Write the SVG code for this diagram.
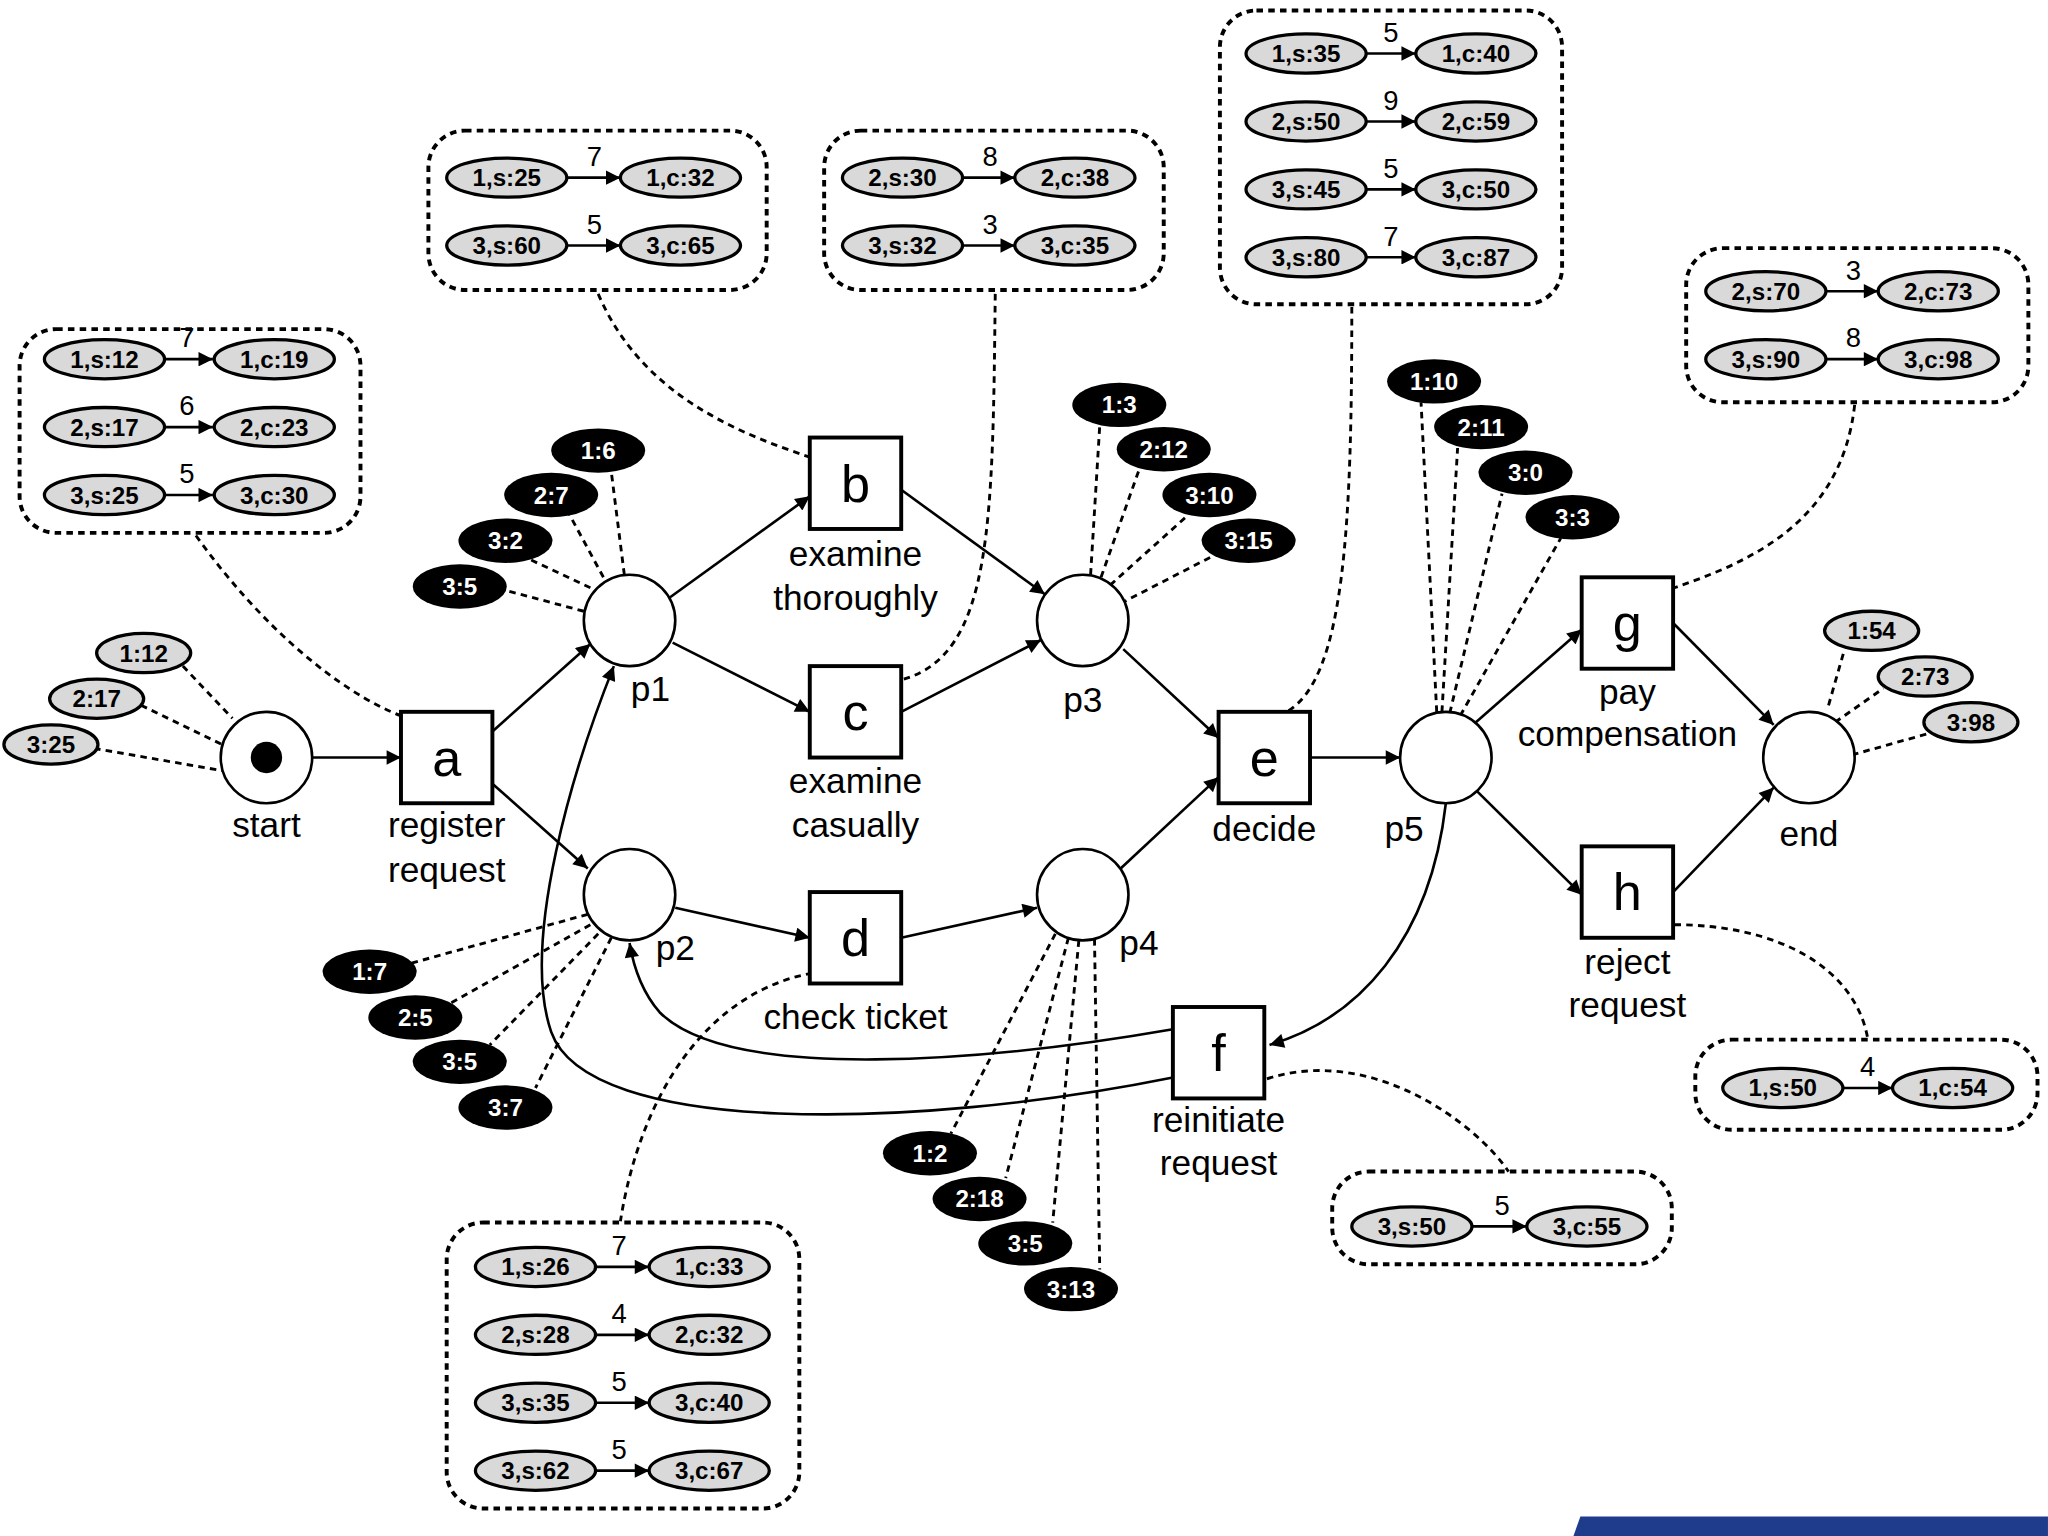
<svg xmlns="http://www.w3.org/2000/svg" width="2048" height="1536" viewBox="0 0 2048 1536">
<defs>
<style>
text{font-family:"Liberation Sans",Arial,sans-serif;text-anchor:middle}
.lbl{font-size:27px}
.big{font-size:40px}
.num{font-size:21px}
.et{font-size:18.5px;font-weight:bold;dominant-baseline:central}
.wt{fill:#fff}
.ge{fill:#d9d9d9;stroke:#000;stroke-width:2.5}
.be{fill:#000}
.pl{fill:#fff;stroke:#000;stroke-width:2}
.tr{fill:#fff;stroke:#000;stroke-width:3}
.arc{fill:none;stroke:#000;stroke-width:2;marker-end:url(#ah)}
.dl{fill:none;stroke:#000;stroke-width:2.2;stroke-dasharray:5,4}
.box{fill:none;stroke:#000;stroke-width:3;stroke-dasharray:5,4}
</style>
<marker id="ah" viewBox="0 0 10 10" refX="10" refY="5" markerWidth="12" markerHeight="11" orient="auto" markerUnits="userSpaceOnUse"><path d="M0,0 L10,5 L0,10 z"/></marker>
</defs>
<rect width="2048" height="1536" fill="#fff"/>
<g transform="scale(1.3061)">
<g id="connectors">
<path class="arc" d="M239,580 L307,580"/>
<path class="arc" d="M377,560 L452,493"/>
<path class="arc" d="M377,600 L450,665"/>
<path class="arc" d="M512,458 L620,380"/>
<path class="arc" d="M515,492 L620,545"/>
<path class="arc" d="M517,695 L620,718"/>
<path class="arc" d="M690,375 L800,455"/>
<path class="arc" d="M690,545 L797,490"/>
<path class="arc" d="M690,718 L794,695"/>
<path class="arc" d="M860,497 L933,565"/>
<path class="arc" d="M858,665 L933,595"/>
<path class="arc" d="M1003,580 L1072,580"/>
<path class="arc" d="M1130,553 L1211,482"/>
<path class="arc" d="M1130,605 L1211,685"/>
<path class="arc" d="M1281,477 L1358,555"/>
<path class="arc" d="M1281,683 L1358,603"/>
<path class="arc" d="M1107,615 C1095,720 1040,780 972,800"/>
<path class="arc" d="M898,788 C760,812 560,830 505,775 C492,760 485,740 482,722"/>
<path class="arc" d="M898,825 C700,865 450,870 422,790 C398,720 440,585 470,510"/>
<path class="dl" d="M150,410 C200,480 260,530 307,548"/>
<path class="dl" d="M458,225 C490,300 560,330 620,350"/>
<path class="dl" d="M762,225 C760,400 760,500 692,520"/>
<path class="dl" d="M1035,235 C1035,400 1030,520 985,545"/>
<path class="dl" d="M1420,310 C1410,400 1340,430 1282,450"/>
<path class="dl" d="M1282,708 C1360,708 1420,740 1430,795"/>
<path class="dl" d="M970,826 C1050,800 1130,860 1155,897"/>
<path class="dl" d="M622,745 C540,760 490,840 475,935"/>
<path class="dl" d="M140,510 L178,550 M108,540 L170,570 M72,573 L170,590"/>
<path class="dl" d="M1400,540 L1412,498 M1405,553 L1442,527 M1418,578 L1475,562"/>
<path class="dl" d="M478,440 L468,361 M462,442 L436,394 M452,450 L405,428 M447,468 L387,452"/>
<path class="dl" d="M835,440 L842,326 M843,442 L872,360 M850,448 L910,394 M858,462 L930,425"/>
<path class="dl" d="M1100,545 L1088,308 M1104,545 L1116,343 M1110,546 L1150,378 M1118,548 L1195,412"/>
<path class="dl" d="M450,700 L313,738 M452,708 L345,768 M458,715 L375,800 M468,718 L410,833"/>
<path class="dl" d="M808,715 L728,868 M818,718 L770,902 M826,720 L806,936 M838,719 L842,972"/>
</g>
<g id="start"><circle class="pl" cx="204" cy="580" r="35"/><circle cx="204" cy="580" r="12"/><text class="lbl" x="204" y="641">start</text></g>
<g id="a"><rect class="tr" x="307" y="545" width="70" height="70"/><text class="big" x="342" y="594">a</text><text class="lbl" x="342" y="641">register</text><text class="lbl" x="342" y="675">request</text></g>
<g id="p1"><circle class="pl" cx="482" cy="475" r="35"/><text class="lbl" x="498" y="537">p1</text></g>
<g id="p2"><circle class="pl" cx="482" cy="685" r="35"/><text class="lbl" x="517" y="735">p2</text></g>
<g id="b"><rect class="tr" x="620" y="335" width="70" height="70"/><text class="big" x="655" y="384">b</text><text class="lbl" x="655" y="433">examine</text><text class="lbl" x="655" y="467">thoroughly</text></g>
<g id="c"><rect class="tr" x="620" y="510" width="70" height="70"/><text class="big" x="655" y="559">c</text><text class="lbl" x="655" y="607">examine</text><text class="lbl" x="655" y="641">casually</text></g>
<g id="d"><rect class="tr" x="620" y="683" width="70" height="70"/><text class="big" x="655" y="732">d</text><text class="lbl" x="655" y="788">check ticket</text></g>
<g id="p3"><circle class="pl" cx="829" cy="475" r="35"/><text class="lbl" x="829" y="545">p3</text></g>
<g id="p4"><circle class="pl" cx="829" cy="685" r="35"/><text class="lbl" x="872" y="731">p4</text></g>
<g id="e"><rect class="tr" x="933" y="545" width="70" height="70"/><text class="big" x="968" y="594">e</text><text class="lbl" x="968" y="644">decide</text></g>
<g id="p5"><circle class="pl" cx="1107" cy="580" r="35"/><text class="lbl" x="1075" y="644">p5</text></g>
<g id="g"><rect class="tr" x="1211" y="442" width="70" height="70"/><text class="big" x="1246" y="491">g</text><text class="lbl" x="1246" y="539">pay</text><text class="lbl" x="1246" y="571">compensation</text></g>
<g id="h"><rect class="tr" x="1211" y="648" width="70" height="70"/><text class="big" x="1246" y="697">h</text><text class="lbl" x="1246" y="746">reject</text><text class="lbl" x="1246" y="779">request</text></g>
<g id="end"><circle class="pl" cx="1385" cy="580" r="35"/><text class="lbl" x="1385" y="648">end</text></g>
<g id="f"><rect class="tr" x="898" y="771" width="70" height="70"/><text class="big" x="933" y="820">f</text><text class="lbl" x="933" y="867">reinitiate</text><text class="lbl" x="933" y="900">request</text></g>
<g id="tokens">
<ellipse class="ge" cx="110" cy="500" rx="36" ry="15"/><text class="et" x="110" y="500">1:12</text>
<ellipse class="ge" cx="74" cy="535" rx="36" ry="15"/><text class="et" x="74" y="535">2:17</text>
<ellipse class="ge" cx="39" cy="570" rx="36" ry="15"/><text class="et" x="39" y="570">3:25</text>
<ellipse class="ge" cx="1433" cy="483" rx="36" ry="15"/><text class="et" x="1433" y="483">1:54</text>
<ellipse class="ge" cx="1474" cy="518" rx="36" ry="15"/><text class="et" x="1474" y="518">2:73</text>
<ellipse class="ge" cx="1509" cy="553" rx="36" ry="15"/><text class="et" x="1509" y="553">3:98</text>
<ellipse class="be" cx="458" cy="345" rx="36" ry="17"/><text class="et wt" x="458" y="345">1:6</text>
<ellipse class="be" cx="422" cy="379" rx="36" ry="17"/><text class="et wt" x="422" y="379">2:7</text>
<ellipse class="be" cx="387" cy="414" rx="36" ry="17"/><text class="et wt" x="387" y="414">3:2</text>
<ellipse class="be" cx="352" cy="449" rx="36" ry="17"/><text class="et wt" x="352" y="449">3:5</text>
<ellipse class="be" cx="857" cy="310" rx="36" ry="17"/><text class="et wt" x="857" y="310">1:3</text>
<ellipse class="be" cx="891" cy="344" rx="36" ry="17"/><text class="et wt" x="891" y="344">2:12</text>
<ellipse class="be" cx="926" cy="379" rx="36" ry="17"/><text class="et wt" x="926" y="379">3:10</text>
<ellipse class="be" cx="956" cy="414" rx="36" ry="17"/><text class="et wt" x="956" y="414">3:15</text>
<ellipse class="be" cx="1098" cy="292" rx="36" ry="17"/><text class="et wt" x="1098" y="292">1:10</text>
<ellipse class="be" cx="1134" cy="327" rx="36" ry="17"/><text class="et wt" x="1134" y="327">2:11</text>
<ellipse class="be" cx="1168" cy="362" rx="36" ry="17"/><text class="et wt" x="1168" y="362">3:0</text>
<ellipse class="be" cx="1204" cy="396" rx="36" ry="17"/><text class="et wt" x="1204" y="396">3:3</text>
<ellipse class="be" cx="283" cy="744" rx="36" ry="17"/><text class="et wt" x="283" y="744">1:7</text>
<ellipse class="be" cx="318" cy="779" rx="36" ry="17"/><text class="et wt" x="318" y="779">2:5</text>
<ellipse class="be" cx="352" cy="813" rx="36" ry="17"/><text class="et wt" x="352" y="813">3:5</text>
<ellipse class="be" cx="387" cy="848" rx="36" ry="17"/><text class="et wt" x="387" y="848">3:7</text>
<ellipse class="be" cx="712" cy="883" rx="36" ry="17"/><text class="et wt" x="712" y="883">1:2</text>
<ellipse class="be" cx="750" cy="918" rx="36" ry="17"/><text class="et wt" x="750" y="918">2:18</text>
<ellipse class="be" cx="785" cy="952" rx="36" ry="17"/><text class="et wt" x="785" y="952">3:5</text>
<ellipse class="be" cx="820" cy="987" rx="36" ry="17"/><text class="et wt" x="820" y="987">3:13</text>
</g>
<g id="boxA"><rect class="box" x="15" y="252" width="261" height="156" rx="28"/>
<ellipse class="ge" cx="80" cy="275" rx="46" ry="15"/><text class="et" x="80" y="275">1,s:12</text><path class="arc" d="M126,275 L163,275"/><text class="num" x="143" y="266">7</text><ellipse class="ge" cx="210" cy="275" rx="46" ry="15"/><text class="et" x="210" y="275">1,c:19</text>
<ellipse class="ge" cx="80" cy="327" rx="46" ry="15"/><text class="et" x="80" y="327">2,s:17</text><path class="arc" d="M126,327 L163,327"/><text class="num" x="143" y="318">6</text><ellipse class="ge" cx="210" cy="327" rx="46" ry="15"/><text class="et" x="210" y="327">2,c:23</text>
<ellipse class="ge" cx="80" cy="379" rx="46" ry="15"/><text class="et" x="80" y="379">3,s:25</text><path class="arc" d="M126,379 L163,379"/><text class="num" x="143" y="370">5</text><ellipse class="ge" cx="210" cy="379" rx="46" ry="15"/><text class="et" x="210" y="379">3,c:30</text></g>
<g id="boxB"><rect class="box" x="328" y="100" width="259" height="122" rx="28"/>
<ellipse class="ge" cx="388" cy="136" rx="46" ry="15"/><text class="et" x="388" y="136">1,s:25</text><path class="arc" d="M434,136 L475,136"/><text class="num" x="455" y="127">7</text><ellipse class="ge" cx="521" cy="136" rx="46" ry="15"/><text class="et" x="521" y="136">1,c:32</text>
<ellipse class="ge" cx="388" cy="188" rx="46" ry="15"/><text class="et" x="388" y="188">3,s:60</text><path class="arc" d="M434,188 L475,188"/><text class="num" x="455" y="179">5</text><ellipse class="ge" cx="521" cy="188" rx="46" ry="15"/><text class="et" x="521" y="188">3,c:65</text></g>
<g id="boxC"><rect class="box" x="631" y="100" width="260" height="122" rx="28"/>
<ellipse class="ge" cx="691" cy="136" rx="46" ry="15"/><text class="et" x="691" y="136">2,s:30</text><path class="arc" d="M737,136 L777,136"/><text class="num" x="758" y="127">8</text><ellipse class="ge" cx="823" cy="136" rx="46" ry="15"/><text class="et" x="823" y="136">2,c:38</text>
<ellipse class="ge" cx="691" cy="188" rx="46" ry="15"/><text class="et" x="691" y="188">3,s:32</text><path class="arc" d="M737,188 L777,188"/><text class="num" x="758" y="179">3</text><ellipse class="ge" cx="823" cy="188" rx="46" ry="15"/><text class="et" x="823" y="188">3,c:35</text></g>
<g id="boxE"><rect class="box" x="934" y="8" width="262" height="225" rx="28"/>
<ellipse class="ge" cx="1000" cy="41" rx="46" ry="15"/><text class="et" x="1000" y="41">1,s:35</text><path class="arc" d="M1046,41 L1084,41"/><text class="num" x="1065" y="32">5</text><ellipse class="ge" cx="1130" cy="41" rx="46" ry="15"/><text class="et" x="1130" y="41">1,c:40</text>
<ellipse class="ge" cx="1000" cy="93" rx="46" ry="15"/><text class="et" x="1000" y="93">2,s:50</text><path class="arc" d="M1046,93 L1084,93"/><text class="num" x="1065" y="84">9</text><ellipse class="ge" cx="1130" cy="93" rx="46" ry="15"/><text class="et" x="1130" y="93">2,c:59</text>
<ellipse class="ge" cx="1000" cy="145" rx="46" ry="15"/><text class="et" x="1000" y="145">3,s:45</text><path class="arc" d="M1046,145 L1084,145"/><text class="num" x="1065" y="136">5</text><ellipse class="ge" cx="1130" cy="145" rx="46" ry="15"/><text class="et" x="1130" y="145">3,c:50</text>
<ellipse class="ge" cx="1000" cy="197" rx="46" ry="15"/><text class="et" x="1000" y="197">3,s:80</text><path class="arc" d="M1046,197 L1084,197"/><text class="num" x="1065" y="188">7</text><ellipse class="ge" cx="1130" cy="197" rx="46" ry="15"/><text class="et" x="1130" y="197">3,c:87</text></g>
<g id="boxG"><rect class="box" x="1291" y="190" width="262" height="118" rx="28"/>
<ellipse class="ge" cx="1352" cy="223" rx="46" ry="15"/><text class="et" x="1352" y="223">2,s:70</text><path class="arc" d="M1398,223 L1438,223"/><text class="num" x="1419" y="214">3</text><ellipse class="ge" cx="1484" cy="223" rx="46" ry="15"/><text class="et" x="1484" y="223">2,c:73</text>
<ellipse class="ge" cx="1352" cy="275" rx="46" ry="15"/><text class="et" x="1352" y="275">3,s:90</text><path class="arc" d="M1398,275 L1438,275"/><text class="num" x="1419" y="266">8</text><ellipse class="ge" cx="1484" cy="275" rx="46" ry="15"/><text class="et" x="1484" y="275">3,c:98</text></g>
<g id="boxH"><rect class="box" x="1298" y="796" width="262" height="69" rx="28"/>
<ellipse class="ge" cx="1365" cy="833" rx="46" ry="15"/><text class="et" x="1365" y="833">1,s:50</text><path class="arc" d="M1411,833 L1449,833"/><text class="num" x="1430" y="824">4</text><ellipse class="ge" cx="1495" cy="833" rx="46" ry="15"/><text class="et" x="1495" y="833">1,c:54</text></g>
<g id="boxF"><rect class="box" x="1020" y="897" width="260" height="71" rx="28"/>
<ellipse class="ge" cx="1081" cy="939" rx="46" ry="15"/><text class="et" x="1081" y="939">3,s:50</text><path class="arc" d="M1127,939 L1169,939"/><text class="num" x="1150" y="930">5</text><ellipse class="ge" cx="1215" cy="939" rx="46" ry="15"/><text class="et" x="1215" y="939">3,c:55</text></g>
<g id="boxD"><rect class="box" x="342" y="936" width="270" height="219" rx="28"/>
<ellipse class="ge" cx="410" cy="970" rx="46" ry="15"/><text class="et" x="410" y="970">1,s:26</text><path class="arc" d="M456,970 L497,970"/><text class="num" x="474" y="961">7</text><ellipse class="ge" cx="543" cy="970" rx="46" ry="15"/><text class="et" x="543" y="970">1,c:33</text>
<ellipse class="ge" cx="410" cy="1022" rx="46" ry="15"/><text class="et" x="410" y="1022">2,s:28</text><path class="arc" d="M456,1022 L497,1022"/><text class="num" x="474" y="1013">4</text><ellipse class="ge" cx="543" cy="1022" rx="46" ry="15"/><text class="et" x="543" y="1022">2,c:32</text>
<ellipse class="ge" cx="410" cy="1074" rx="46" ry="15"/><text class="et" x="410" y="1074">3,s:35</text><path class="arc" d="M456,1074 L497,1074"/><text class="num" x="474" y="1065">5</text><ellipse class="ge" cx="543" cy="1074" rx="46" ry="15"/><text class="et" x="543" y="1074">3,c:40</text>
<ellipse class="ge" cx="410" cy="1126" rx="46" ry="15"/><text class="et" x="410" y="1126">3,s:62</text><path class="arc" d="M456,1126 L497,1126"/><text class="num" x="474" y="1117">5</text><ellipse class="ge" cx="543" cy="1126" rx="46" ry="15"/><text class="et" x="543" y="1126">3,c:67</text></g>
<polygon points="1210,1161 1568,1161 1568,1178 1204,1178" fill="#1f3c8c"/>
</g>
</svg>
